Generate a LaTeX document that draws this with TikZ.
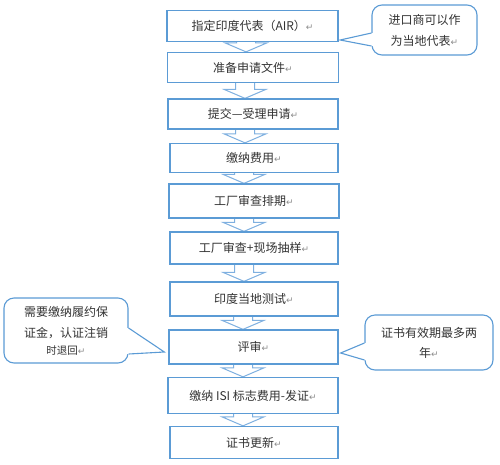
\documentclass[tikz,border=0pt]{standalone}
\usepackage{fontspec}
\setmainfont{Noto Sans CJK SC}
\newfontfamily\retfont{DejaVu Sans}
\usetikzlibrary{calc,backgrounds}
\definecolor{boxblue}{HTML}{5B9BD5}
\definecolor{arrowblue}{HTML}{7FB0E0}
\newcommand{\retmark}{{\retfont\fontsize{9}{9}\selectfont\color{black!45}↵}}

\begin{document}
\begin{tikzpicture}[x=1pt,y=-1pt,
		stepbox/.style={draw=boxblue,line width=1.3pt,fill=white,inner sep=0pt,text=black!80,font=\fontsize{12}{14}\selectfont},
		note/.style={draw=boxblue,line width=1.1pt,fill=white,rounded corners=10pt,inner sep=0pt,align=center,text=black!80,font=\fontsize{12}{21}\selectfont},
		flow/.style={draw=arrowblue,line width=1pt,fill=white},
		pointer/.style={draw=boxblue,line width=1.1pt}]
		\useasboundingbox (0,0) rectangle (500,464);
		% steps
		\node[stepbox,minimum width=171pt,minimum height=31pt] (s1) at (252.5,26) {指定印度代表（AIR）\retmark};
		\node[stepbox,minimum width=171pt,minimum height=30pt] (s2) at (253,67.5) {准备申请文件\retmark};
		\node[stepbox,minimum width=170pt,minimum height=30pt] (s3) at (253,114) {提交—受理申请\retmark};
		\node[stepbox,minimum width=168pt,minimum height=29pt] (s4) at (254,158) {缴纳费用\retmark};
		\node[stepbox,minimum width=170pt,minimum height=34pt] (s5) at (254,201) {工厂审查排期\retmark};
		\node[stepbox,minimum width=168pt,minimum height=32pt] (s6) at (254,248) {工厂审查+现场抽样\retmark};
		\node[stepbox,minimum width=168pt,minimum height=34pt] (s7) at (254,299) {印度当地测试\retmark};
		\node[stepbox,minimum width=169pt,minimum height=34pt] (s8) at (253.5,347) {评审\retmark};
		\node[stepbox,minimum width=170pt,minimum height=36pt] (s9) at (253,395.5) {缴纳 ISI 标志费用-发证\retmark};
		\node[stepbox,minimum width=168pt,minimum height=32pt] (s10) at (254,442.5) {证书更新\retmark};
		% block arrows behind the steps
		\begin{pgfonlayer}{background}
			\foreach \a/\b/\ax in {s1/s2/246,s2/s3/245,s3/s4/245,s4/s5/244,s5/s6/244,s6/s7/244,s7/s8/243,s8/s9/243,s9/s10/243}
				\draw[flow] let \p1=(\a.south), \p2=(\b.north) in
					(\ax pt-9.5pt,\y1+3pt) -- (\ax pt-9.5pt,\y2+9pt) -- (\ax pt-21pt,\y2+9pt) -- (\ax pt,\y2)
					-- (\ax pt+21pt,\y2+9pt) -- (\ax pt+9.5pt,\y2+9pt) -- (\ax pt+9.5pt,\y1+3pt);
		\end{pgfonlayer}
		% notes
		\node[note,minimum width=105pt,minimum height=50pt] (c1) at (424.5,30) {进口商可以作\\为当地代表\retmark};
		\node[note,minimum width=124pt,minimum height=65pt] (c2) at (66,330.5) {需要缴纳履约保\\证金，认证注销\\[-4pt]{\fontsize{10.5}{16}\selectfont 时退回\retmark}};
		\node[note,minimum width=128pt,minimum height=55pt] (c3) at (429,342.5) {证书有效期最多两\\[-1pt]年\retmark};
		% pointers
		\coordinate (t1) at ([xshift=1.5pt,yshift=-14pt]s1.east);
		\fill[white] ([xshift=1.5pt,yshift=-3pt]c1.west) -- ([yshift=-3pt]c1.west) -- (t1) -- ([yshift=-16pt]c1.west) -- ([xshift=1.5pt,yshift=-16pt]c1.west) -- cycle;
		\draw[pointer] ([yshift=-3pt]c1.west) -- (t1) -- ([yshift=-16pt]c1.west);
		\coordinate (t2) at ([xshift=-4pt,yshift=-5pt]s8.west);
		\fill[white] ([xshift=-1.5pt,yshift=2.5pt]c2.east) -- ([yshift=2.5pt]c2.east) -- (t2) -- ([yshift=-23.5pt]c2.east) -- ([xshift=-1.5pt,yshift=-23.5pt]c2.east) -- cycle;
		\draw[pointer] ([yshift=2.5pt]c2.east) -- (t2) -- ([yshift=-23.5pt]c2.east);
		\coordinate (t3) at ([xshift=2pt,yshift=-6pt]s8.east);
		\fill[white] ([xshift=1.5pt,yshift=-0.5pt]c3.west) -- ([yshift=-0.5pt]c3.west) -- (t3) -- ([yshift=-17.5pt]c3.west) -- ([xshift=1.5pt,yshift=-17.5pt]c3.west) -- cycle;
		\draw[pointer] ([yshift=-0.5pt]c3.west) -- (t3) -- ([yshift=-17.5pt]c3.west);
	\end{tikzpicture}
\end{document}
